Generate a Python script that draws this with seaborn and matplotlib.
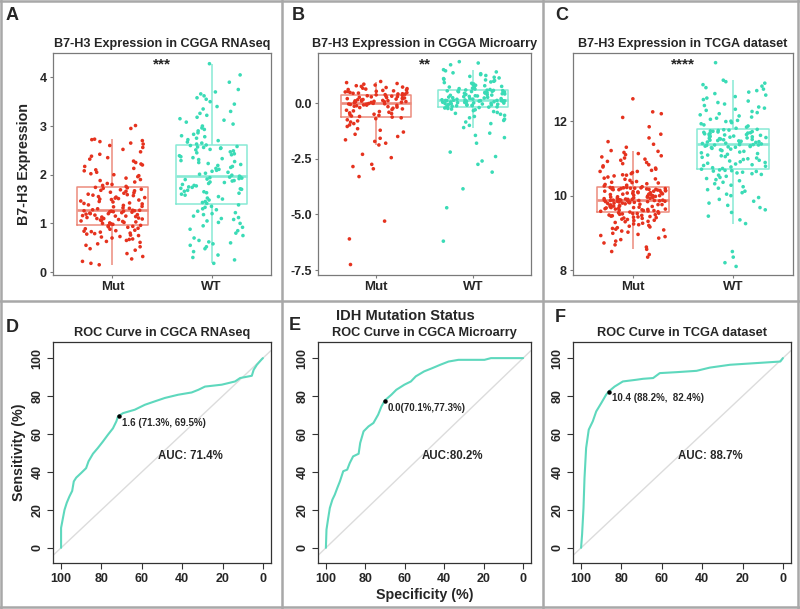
import matplotlib
matplotlib.use('Agg')
import matplotlib.pyplot as plt
from matplotlib.lines import Line2D
import pandas as pd
import seaborn as sns

# ---------------- data ----------------
groups = ['Mut', 'WT']

# A: B7-H3 expression, CGGA RNAseq
a_mut = [0.15, 0.18, 0.22, 0.27, 0.32, 0.38, 0.45, 0.48, 0.52, 0.55, 0.58, 0.61, 0.63, 0.65, 0.67,
         0.68, 0.70, 0.72, 0.73, 0.75, 0.76, 0.78, 0.79, 0.80, 0.82, 0.83, 0.84, 0.85, 0.86, 0.88,
         0.89, 0.90, 0.92, 0.93, 0.94, 0.95, 0.96,
         0.98, 0.99, 1.00, 1.01, 1.02, 1.03, 1.04, 1.05, 1.06, 1.07, 1.08, 1.09, 1.10, 1.10, 1.11,
         1.12, 1.13, 1.14, 1.15, 1.15, 1.16, 1.17, 1.18, 1.19, 1.20, 1.20, 1.21, 1.22, 1.23, 1.24,
         1.24, 1.25, 1.25, 1.26, 1.26, 1.27, 1.27,
         1.28, 1.30, 1.31, 1.32, 1.34, 1.35, 1.37, 1.38, 1.40, 1.41, 1.42, 1.44, 1.45, 1.46, 1.48,
         1.49, 1.50, 1.51, 1.52, 1.53, 1.54, 1.55, 1.57, 1.58, 1.59, 1.60, 1.62, 1.63, 1.64, 1.66,
         1.67, 1.68, 1.69, 1.70, 1.72, 1.73, 1.74,
         1.76, 1.78, 1.80, 1.82, 1.85, 1.88, 1.90, 1.93, 1.96, 1.98, 2.00, 2.02, 2.05, 2.08, 2.10,
         2.13, 2.17, 2.20, 2.22, 2.25, 2.28, 2.32, 2.35, 2.38, 2.42, 2.47, 2.52, 2.56, 2.60, 2.63,
         2.65, 2.68, 2.70, 2.72, 2.73, 2.95, 3.01]
a_wt = [0.18, 0.25, 0.30, 0.35, 0.42, 0.48, 0.52, 0.55, 0.58, 0.60, 0.62, 0.65, 0.70, 0.75, 0.80,
        0.85, 0.88, 0.92, 0.95, 1.00, 1.02, 1.05, 1.08, 1.10, 1.12, 1.15, 1.18, 1.20, 1.22, 1.25,
        1.28, 1.30, 1.33, 1.35, 1.38,
        1.41, 1.43, 1.45, 1.48, 1.50, 1.52, 1.55, 1.58, 1.60, 1.62, 1.63, 1.65, 1.66, 1.68, 1.70,
        1.71, 1.72, 1.74, 1.75, 1.77, 1.78, 1.80, 1.82, 1.84, 1.85, 1.87, 1.88, 1.90, 1.91, 1.92,
        1.93, 1.94, 1.95, 1.96, 1.97,
        1.99, 2.01, 2.03, 2.05, 2.07, 2.09, 2.11, 2.13, 2.15, 2.17, 2.19, 2.21, 2.23, 2.25, 2.27,
        2.29, 2.31, 2.33, 2.35, 2.37, 2.39, 2.41, 2.43, 2.45, 2.47, 2.49, 2.51, 2.52, 2.54, 2.55,
        2.56, 2.57, 2.58, 2.60, 2.61,
        2.63, 2.65, 2.67, 2.70, 2.72, 2.75, 2.78, 2.80, 2.83, 2.86, 2.90, 2.93, 2.96, 3.00, 3.04,
        3.08, 3.12, 3.15, 3.18, 3.22, 3.26, 3.30, 3.35, 3.40, 3.45, 3.50, 3.55, 3.58, 3.62, 3.66,
        3.70, 3.75, 3.90, 4.05, 4.28]

# B: B7-H3 expression, CGGA microarray
b_mut = [-7.25, -6.1, -5.3, -3.3, -2.95, -2.85, -2.75, -2.45, -2.3, -1.88, -1.80, -1.72, -1.65,
         -1.58, -1.50, -1.40, -1.30, -1.22, -1.15, -1.05, -0.98, -0.92, -0.85, -0.80, -0.75,
         -0.70, -0.66, -0.63,
         -0.60, -0.58, -0.55, -0.52, -0.50, -0.47, -0.44, -0.41, -0.38, -0.35, -0.32, -0.29,
         -0.26, -0.23, -0.20, -0.18, -0.16, -0.14, -0.12, -0.10, -0.09, -0.08, -0.06, -0.05,
         -0.04, -0.03, -0.02, -0.01,
         0.01, 0.02, 0.03, 0.04, 0.05, 0.06, 0.07, 0.08, 0.09, 0.10, 0.11, 0.12, 0.14, 0.15, 0.16,
         0.18, 0.19, 0.20, 0.22, 0.23, 0.25, 0.26, 0.28, 0.29, 0.31, 0.32, 0.33, 0.35,
         0.37, 0.38, 0.40, 0.41, 0.42, 0.44, 0.45, 0.47, 0.48, 0.50, 0.52, 0.53, 0.55, 0.57, 0.59,
         0.61, 0.63, 0.65, 0.67, 0.70, 0.72, 0.75, 0.78, 0.81, 0.85, 0.88, 0.92, 0.97]
b_wt = [-6.2, -4.7, -3.85, -3.1, -2.75, -2.6, -2.4, -2.2, -1.8, -1.55, -1.45, -1.35, -1.1, -1.0,
        -0.92, -0.85, -0.78, -0.72, -0.66, -0.60, -0.55, -0.50, -0.46, -0.42, -0.38, -0.34,
        -0.30, -0.27, -0.24, -0.22, -0.20, -0.18, -0.17,
        -0.15, -0.14, -0.13, -0.12, -0.11, -0.10, -0.09, -0.08, -0.07, -0.06, -0.05, -0.04,
        -0.03, -0.02, -0.01, 0.0, 0.01, 0.02, 0.03, 0.04, 0.05, 0.06, 0.07, 0.08, 0.09, 0.10,
        0.10, 0.11, 0.11, 0.12, 0.12, 0.12, 0.13,
        0.14, 0.15, 0.17, 0.18, 0.20, 0.21, 0.23, 0.24, 0.26, 0.27, 0.29, 0.30, 0.32, 0.33, 0.35,
        0.36, 0.38, 0.39, 0.41, 0.42, 0.44, 0.45, 0.47, 0.48, 0.50, 0.51, 0.52, 0.53, 0.54, 0.55,
        0.56, 0.57, 0.58,
        0.59, 0.61, 0.63, 0.65, 0.67, 0.70, 0.72, 0.75, 0.78, 0.80, 0.83, 0.86, 0.89, 0.92, 0.95,
        0.98, 1.01, 1.04, 1.07, 1.10, 1.13, 1.16, 1.20, 1.24, 1.28, 1.32, 1.36, 1.40, 1.45, 1.50,
        1.72, 1.80, 1.86]

# C: B7-H3 expression, TCGA
c_mut = [8.35, 8.42, 8.50, 8.56, 8.62, 8.68, 8.73, 8.78, 8.82, 8.86, 8.90, 8.93, 8.96, 8.99, 9.02,
         9.05, 9.08, 9.10, 9.12, 9.14, 9.16, 9.18, 9.20, 9.22, 9.24, 9.26, 9.28, 9.30, 9.31, 9.33,
         9.34, 9.36, 9.37, 9.39, 9.40, 9.41, 9.42, 9.43, 9.44, 9.45, 9.46, 9.47, 9.48, 9.49, 9.50,
         9.51, 9.52, 9.52, 9.53, 9.54,
         9.56, 9.57, 9.58, 9.59, 9.60, 9.60, 9.61, 9.62, 9.63, 9.64, 9.64, 9.65, 9.66, 9.67, 9.68,
         9.68, 9.69, 9.70, 9.71, 9.72, 9.72, 9.73, 9.74, 9.75, 9.76, 9.76, 9.77, 9.78, 9.79, 9.80,
         9.80, 9.81, 9.82, 9.82, 9.83, 9.83, 9.84, 9.84, 9.85, 9.85, 9.86, 9.86, 9.86, 9.87, 9.87,
         9.87, 9.88, 9.88, 9.88, 9.88,
         9.89, 9.90, 9.90, 9.91, 9.92, 9.93, 9.93, 9.94, 9.95, 9.96, 9.96, 9.97, 9.98, 9.99, 10.00,
         10.00, 10.01, 10.02, 10.03, 10.04, 10.04, 10.05, 10.06, 10.07, 10.08, 10.08, 10.09, 10.10,
         10.11, 10.12, 10.12, 10.13, 10.14, 10.14, 10.15, 10.16, 10.16, 10.17, 10.17, 10.18, 10.18,
         10.19, 10.19, 10.20, 10.20, 10.21, 10.21, 10.21, 10.22, 10.22,
         10.24, 10.26, 10.28, 10.30, 10.32, 10.34, 10.36, 10.38, 10.41, 10.44, 10.47, 10.50, 10.53,
         10.56, 10.59, 10.62, 10.65, 10.68, 10.71, 10.74, 10.77, 10.80, 10.83, 10.86, 10.89, 10.92,
         10.95, 10.98, 11.01, 11.04, 11.07, 11.10, 11.13, 11.16, 11.19, 11.21, 10.35, 10.45, 10.55,
         10.65, 11.30, 11.38, 11.45, 11.55, 11.65, 11.85, 12.10, 12.20, 12.25, 12.60]
c_wt = [8.10, 8.20, 8.35, 8.50, 9.25, 9.35, 9.45, 9.55, 9.62, 9.68, 9.74, 9.80, 9.85, 9.90, 9.95,
        10.00, 10.04, 10.08, 10.12, 10.16, 10.20, 10.24, 10.28, 10.32, 10.36, 10.40, 10.43, 10.46,
        10.49, 10.52, 10.55, 10.57, 10.59, 10.61, 10.63, 10.65, 10.66, 10.67, 10.68, 10.69,
        10.71, 10.73, 10.75, 10.77, 10.79, 10.81, 10.83, 10.85, 10.87, 10.89, 10.91, 10.93, 10.95,
        10.97, 10.99, 11.01, 11.03, 11.05, 11.07, 11.09, 11.11, 11.13, 11.15, 11.17, 11.19, 11.21,
        11.23, 11.25, 11.27, 11.29, 11.30, 11.31, 11.32, 11.33, 11.34, 11.35, 11.36, 11.36, 11.37,
        11.37,
        11.39, 11.40, 11.41, 11.42, 11.43, 11.44, 11.45, 11.46, 11.47, 11.48, 11.49, 11.50, 11.51,
        11.52, 11.53, 11.54, 11.55, 11.56, 11.57, 11.58, 11.59, 11.60, 11.61, 11.62, 11.63, 11.64,
        11.65, 11.66, 11.67, 11.68, 11.69, 11.70, 11.71, 11.72, 11.73, 11.74, 11.75, 11.76, 11.77,
        11.78,
        11.81, 11.84, 11.87, 11.90, 11.93, 11.96, 11.99, 12.02, 12.05, 12.08, 12.11, 12.14, 12.17,
        12.20, 12.23, 12.26, 12.29, 12.32, 12.35, 12.38, 12.42, 12.46, 12.50, 12.54, 12.58, 12.62,
        12.66, 12.70, 12.74, 12.78, 12.82, 12.86, 12.90, 12.94, 12.98, 13.02, 13.06, 13.10, 13.57,
        12.00]

# ROC curves: specificity (%) and sensitivity (%)
d_spec = [100, 100, 99.2, 98.3, 97.2, 95.9, 94.5, 93.7, 92.5, 90, 87.6, 86.4, 84.2, 81.8, 79.3,
          76.8, 74.3, 72.6, 71.8, 69.3, 63.5, 58.5, 53.6, 48.6, 42, 35.3, 32, 28.7, 20.4, 13.8,
          11.3, 5.5, 4.6, 3, 0.5, 0]
d_sens = [0, 10.5, 15, 20, 23.7, 27, 30, 35, 37, 39.5, 42, 45.6, 49.6, 52.6, 56, 59.6, 63, 66.7,
          69.3, 71, 72.8, 75.4, 77.2, 79, 80.7, 81.9, 83.3, 85, 86, 87.7, 89.5, 90.7, 93.8, 96.5,
          99.5, 100]
e_spec = [100, 99.7, 98.8, 98, 96.7, 95.5, 94.2, 92.9, 91.2, 89.2, 87.9, 86.2, 83.4, 82.6, 80.9,
          78.4, 75.9, 73.5, 71.8, 70.1, 66.8, 64.3, 60.2, 56.9, 54.4, 50.2, 46.1, 42, 37.8, 32.8,
          19.6, 16.3, 0]
e_sens = [0, 9.6, 15.8, 21, 25.4, 28, 31.6, 35, 40.4, 41.2, 44.7, 48.2, 49.6, 55.3, 61.4, 64,
          65.8, 70.2, 74.6, 77.7, 80.7, 83.3, 86, 87.7, 90.4, 93, 94.7, 96.5, 98.2, 99.1, 99.1,
          100, 100]
f_spec = [100, 99.5, 98.8, 98.3, 97.5, 96.2, 94.2, 92.5, 90, 87.6, 86.2, 83.4, 79.3, 72.6, 69.3,
          64.3, 61, 52.7, 42.8, 36.2, 26.2, 13, 1.3, 0]
f_sens = [0, 7, 21, 36.8, 52.6, 62.3, 66.7, 71.9, 76.3, 80.7, 82.5, 85, 87.7, 88.6, 89.1, 89.5,
          92.1, 92.6, 93.3, 95, 96.5, 97.4, 98.2, 100]

d_cut, e_cut, f_cut = (71.3, 69.5), (70.1, 77.3), (86.2, 82.4)
d_cut_label = '1.6 (71.3%, 69.5%)'
e_cut_label = '0.0(70.1%,77.3%)'
f_cut_label = '10.4 (88.2%,  82.4%)'
auc_labels = ['AUC: 71.4%', 'AUC:80.2%', 'AUC: 88.7%']

# ---------------- style ----------------
sns.set_style('white')
plt.rcParams['font.family'] = ['Liberation Sans', 'DejaVu Sans']
plt.rcParams['font.weight'] = 'bold'

MUT_PT, MUT_BOX = '#E5321E', '#EC8B7D'
WT_PT, WT_BOX = '#3ADBB6', '#88EAD5'
ROC_COL = '#5ED8BD'
SEP = '#A8A8A8'

W, H = 800, 609


def rect(l, t, r, b):
    return [l / W, 1 - b / H, (r - l) / W, (b - t) / H]


def box_panel(ax, mut, wt, title, stars, ticks, ticklabels, ylim):
    df = pd.DataFrame({'group': ['Mut'] * len(mut) + ['WT'] * len(wt),
                       'value': mut + wt})
    sns.boxplot(data=df, x='group', y='value', hue='group', order=groups, hue_order=groups,
                palette=[MUT_BOX, WT_BOX], fill=False, width=0.72, showfliers=False,
                showcaps=False, linewidth=1.1, medianprops={'linewidth': 1.9},
                legend=False, ax=ax)
    sns.stripplot(data=df, x='group', y='value', hue='group', order=groups, hue_order=groups,
                  palette=[MUT_PT, WT_PT], jitter=0.33, size=2.6, linewidth=0,
                  legend=False, ax=ax, zorder=3)
    ax.set_xlim(-0.6, 1.6)
    ax.set_ylim(*ylim)
    ax.set_yticks(ticks)
    ax.set_yticklabels(ticklabels, fontsize=9, fontweight='bold')
    ax.set_xticks([0, 1])
    ax.set_xticklabels(groups, fontsize=9.5, fontweight='bold')
    ax.set_xlabel('')
    ax.set_ylabel('')
    ax.set_title(title, fontsize=9.1, fontweight='bold', pad=4)
    ax.text(0.5, 0.95, stars, transform=ax.transAxes, ha='center', va='center',
            fontsize=11, fontweight='bold')
    for s in ax.spines.values():
        s.set_color('#7A7A7A')
        s.set_linewidth(0.9)
    ax.tick_params(axis='both', left=True, bottom=True, length=2.5, width=0.8,
                   color='#7A7A7A', pad=2)


def roc_panel(ax, spec, sens, cut, cut_label, auc_label, title):
    df = pd.DataFrame({'spec': spec, 'sens': sens})
    ax.axline((100, 0), (0, 100), color='#DCDCDC', lw=1, zorder=1)
    sns.lineplot(data=df, x='spec', y='sens', sort=False, estimator=None, color=ROC_COL,
                 lw=1.5, ax=ax, zorder=2)
    ax.plot([cut[0]], [cut[1]], 'o', color='black', ms=2.2, zorder=3)
    ax.annotate(cut_label, xy=cut, xytext=(2, -5), textcoords='offset points',
                fontsize=7, fontweight='bold', ha='left', va='center')
    ax.text(36, 48.5, auc_label, ha='center', va='center', fontsize=8.3)
    ax.set_xlim(104, -4)
    ax.set_ylim(-8, 108.5)
    ax.set_xticks([100, 80, 60, 40, 20, 0])
    ax.set_xticklabels(['100', '80', '60', '40', '20', '0'], fontsize=9, fontweight='bold')
    ax.set_yticks([0, 20, 40, 60, 80, 100])
    ax.set_yticklabels(['0', '20', '40', '60', '80', '100'], fontsize=9, fontweight='bold',
                       rotation=90, va='center')
    ax.set_xlabel('')
    ax.set_ylabel('')
    ax.set_title(title, fontsize=9.2, fontweight='bold', pad=4)
    for s in ax.spines.values():
        s.set_color('#333333')
        s.set_linewidth(0.9)
    ax.tick_params(axis='both', left=True, bottom=True, length=4, width=0.8,
                   color='#333333', pad=3)


fig = plt.figure(figsize=(W / 100, H / 100), dpi=100)

ax_a = fig.add_axes(rect(53, 53, 271, 275))
ax_b = fig.add_axes(rect(318, 53, 531, 275))
ax_c = fig.add_axes(rect(573, 53, 793, 275))
ax_d = fig.add_axes(rect(53, 342, 271, 563))
ax_e = fig.add_axes(rect(318, 342, 531, 563))
ax_f = fig.add_axes(rect(573, 342, 791, 563))

box_panel(ax_a, a_mut, a_wt, 'B7-H3 Expression in CGGA RNAseq', '***',
          [0, 1, 2, 3, 4], ['0', '1', '2', '3', '4'], (-0.06, 4.5))
box_panel(ax_b, b_mut, b_wt, 'B7-H3 Expression in CGGA Microarry', '**',
          [0, -2.5, -5, -7.5], ['0.0', '-2.5', '-5.0', '-7.5'], (-7.72, 2.25))
box_panel(ax_c, c_mut, c_wt, 'B7-H3 Expression in TCGA dataset', '****',
          [8, 10, 12], ['8', '10', '12'], (7.87, 13.83))
ax_a.set_ylabel('B7-H3 Expression', fontsize=10.3, fontweight='bold', labelpad=6)

roc_panel(ax_d, d_spec, d_sens, d_cut, d_cut_label, auc_labels[0], 'ROC Curve in CGCA RNAseq')
roc_panel(ax_e, e_spec, e_sens, e_cut, e_cut_label, auc_labels[1], 'ROC Curve in CGCA Microarry')
roc_panel(ax_f, f_spec, f_sens, f_cut, f_cut_label, auc_labels[2], 'ROC Curve in TCGA dataset')
ax_d.set_ylabel('Sensitivity (%)', fontsize=10.3, fontweight='bold', labelpad=4)
ax_e.set_xlabel('Specificity (%)', fontsize=10.3, fontweight='bold', labelpad=2)
fig.text(405 / W, 1 - 316 / H, 'IDH Mutation Status', ha='center', va='center',
         fontsize=10.5, fontweight='bold')

# panel letters
for letter, (px, py) in zip('ABCDEF', [(12, 15), (298, 15), (562, 15),
                                       (12, 327), (295, 325), (560, 318)]):
    fig.text(px / W, 1 - py / H, letter, ha='center', va='center',
             fontsize=13, fontweight='bold')

# panel separators
for x in (1, 282, 543, 798):
    fig.add_artist(Line2D([x / W, x / W], [0, 1], color=SEP, lw=1.8))
for y in (1, 301, 607):
    fig.add_artist(Line2D([0, 1], [1 - y / H, 1 - y / H], color=SEP, lw=1.8))

fig.savefig('out.png', dpi=100)
